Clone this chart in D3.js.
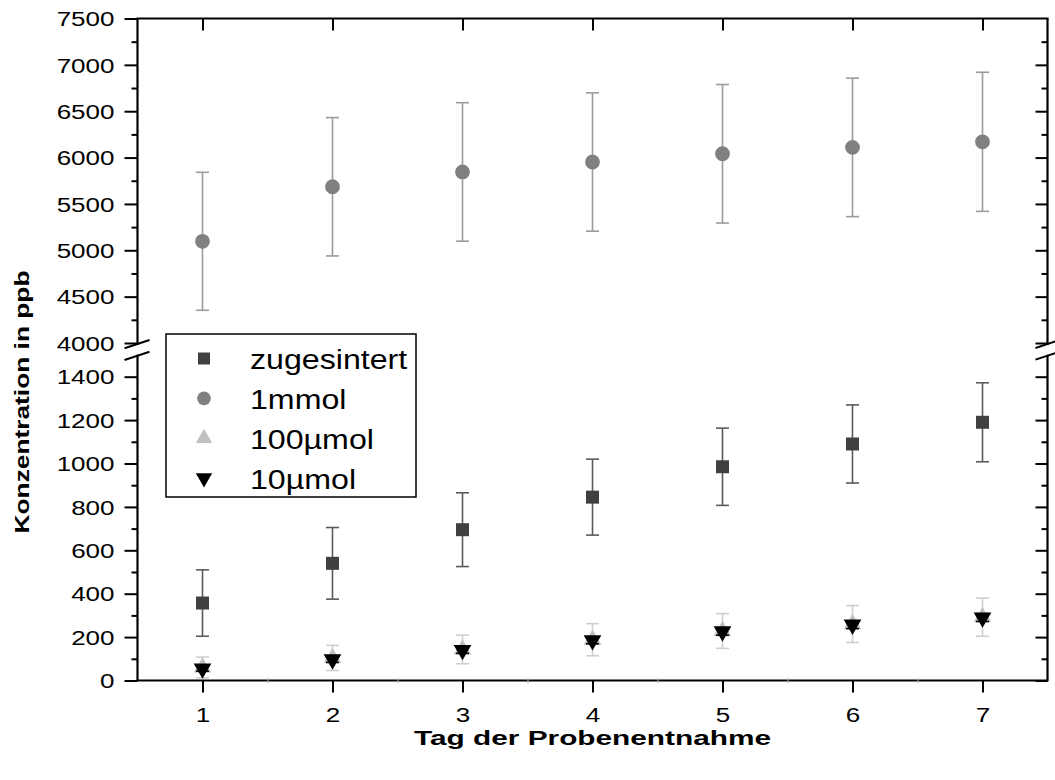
<!DOCTYPE html>
<html>
<head>
<meta charset="utf-8">
<script src="https://cdn.jsdelivr.net/npm/d3@7"></script>
<style>
  html, body { margin: 0; padding: 0; background: #fff; }
  svg { display: block; font-family: "Liberation Sans", Arial, sans-serif; }
</style>
</head>
<body>
<script>
// Sampling days and tick values
const days = [1, 2, 3, 4, 5, 6, 7];
const upperTicks = [4000, 4500, 5000, 5500, 6000, 6500, 7000, 7500];
const upperMinor = [4250, 4750, 5250, 5750, 6250, 6750, 7250];
const lowerTicks = [0, 200, 400, 600, 800, 1000, 1200, 1400];
const lowerMinor = [100, 300, 500, 700, 900, 1100, 1300];

// Series: mean concentration (ppb) and error half-width per day
const zugesintert    = [357, 540, 695, 845, 985, 1090, 1190];
const zugesintertErr = [153, 165, 170, 175, 178, 180, 182];
const mmol1          = [5097, 5685, 5845, 5952, 6041, 6110, 6170];
const mmol1Err       = [744, 746, 747, 746, 747, 747, 750];
const umol100        = [60, 104, 143, 188, 228, 260, 292];
const umol100Err     = [48, 58, 66, 74, 80, 85, 88];
const umol10         = [55, 97, 140, 185, 226, 257, 290];
const umol10Err      = [12, 14, 15, 16, 17, 18, 18];

const legendLabels = ["zugesintert", "1mmol", "100µmol", "10µmol"];

(function () {
const W = 1055, H = 780;
const svg = d3.select("body").append("svg").attr("width", W).attr("height", H);

const x   = d3.scaleLinear().domain([0.5, 7.5]).range([137.5, 1047.5]);
const yUp = d3.scaleLinear().domain([4000, 7500]).range([343, 18.5]);
const yLo = d3.scaleLinear().domain([0, 1400]).range([680.5, 376.7]);

const xL = x.range()[0], xR = x.range()[1];
const yT = yUp.range()[1], yB = yLo.range()[0];
const upperEnd = yUp(4000) + 2;    // where the upper axis segment stops
const lowerStart = yLo(1400) - 22; // where the lower axis segment starts

// horizontally widen text to the given factor
function stretch(sel, k) {
  sel.each(function () {
    const w = this.getComputedTextLength();
    this.setAttribute("textLength", w * k);
    this.setAttribute("lengthAdjust", "spacingAndGlyphs");
  });
}

// ---------- series ----------
const series = [
  { name: legendLabels[0], vals: zugesintert, err: zugesintertErr, y: yLo, sym: "square",  fill: "#404040", bar: "#5a5a5a" },
  { name: legendLabels[1], vals: mmol1,       err: mmol1Err,       y: yUp, sym: "circle",  fill: "#808080", bar: "#9c9c9c" },
  { name: legendLabels[2], vals: umol100,     err: umol100Err,     y: yLo, sym: "triUp",   fill: "#c0c0c0", bar: "#cfcfcf" },
  { name: legendLabels[3], vals: umol10,      err: umol10Err,      y: yLo, sym: "triDown", fill: "#000000", bar: "#000000" }
];

function symbolPath(kind, scale) {
  if (kind === "square") return d3.symbol(d3.symbolSquare, 169 * scale)();
  if (kind === "circle") return d3.symbol(d3.symbolCircle, Math.PI * 7.4 * 7.4 * scale)();
  return d3.symbol(d3.symbolTriangle, 136 * scale)();
}

const plot = svg.append("g");
series.forEach(s => {
  const g = plot.append("g");
  const pts = days.map((d, i) => ({ d, v: s.vals[i], e: s.err[i] }));
  // error bars
  const eb = g.selectAll(".eb").data(pts).join("g").attr("stroke", s.bar).attr("stroke-width", 1.6);
  eb.append("line")
    .attr("x1", p => x(p.d)).attr("x2", p => x(p.d))
    .attr("y1", p => s.y(p.v - p.e)).attr("y2", p => s.y(p.v + p.e));
  eb.append("line")
    .attr("x1", p => x(p.d) - 6.5).attr("x2", p => x(p.d) + 6.5)
    .attr("y1", p => s.y(p.v + p.e)).attr("y2", p => s.y(p.v + p.e));
  eb.append("line")
    .attr("x1", p => x(p.d) - 6.5).attr("x2", p => x(p.d) + 6.5)
    .attr("y1", p => s.y(p.v - p.e)).attr("y2", p => s.y(p.v - p.e));
  // markers
  g.selectAll(".m").data(pts).join("path")
    .attr("d", symbolPath(s.sym, 1))
    .attr("fill", s.fill)
    .attr("transform", p => `translate(${x(p.d)},${s.y(p.v)})` + (s.sym === "triDown" ? " rotate(180)" : ""));
});

// ---------- frame ----------
const frame = svg.append("g").attr("stroke", "#000").attr("stroke-width", 2.2).attr("fill", "none");
frame.append("line").attr("x1", xL - 1).attr("x2", xR + 1).attr("y1", yT).attr("y2", yT);
frame.append("line").attr("x1", xL - 1).attr("x2", xR + 1).attr("y1", yB).attr("y2", yB);
[xL, xR].forEach(xx => {
  frame.append("line").attr("x1", xx).attr("x2", xx).attr("y1", yT).attr("y2", upperEnd);
  frame.append("line").attr("x1", xx).attr("x2", xx).attr("y1", lowerStart).attr("y2", yB);
});

// axis break marks
const brk = svg.append("g").attr("stroke", "#000").attr("stroke-width", 2);
[[xL, -13, 12], [xR, -12, 8]].forEach(([xx, a, b]) => {
  [yUp(4000) + 1, lowerStart + 1].forEach(yc => {
    brk.append("line")
      .attr("x1", xx + a).attr("y1", yc - a * 0.33)
      .attr("x2", xx + b).attr("y2", yc - b * 0.33);
  });
});

// ---------- axes ----------
function styleAxis(g) {
  g.select(".domain").remove();
  g.selectAll("line").attr("stroke", "#000").attr("stroke-width", 2);
  g.selectAll("text").attr("fill", "#000").attr("font-size", 20);
}

// left: outward ticks with labels
const lUp = svg.append("g").attr("transform", `translate(${xL},0)`)
  .call(d3.axisLeft(yUp).tickValues(upperTicks).tickSize(13).tickPadding(10).tickFormat(d3.format("d")));
const lUpMinor = svg.append("g").attr("transform", `translate(${xL},0)`)
  .call(d3.axisLeft(yUp).tickValues(upperMinor).tickSize(6).tickFormat(""));
const lLo = svg.append("g").attr("transform", `translate(${xL},0)`)
  .call(d3.axisLeft(yLo).tickValues(lowerTicks).tickSize(13).tickPadding(10).tickFormat(d3.format("d")));
const lLoMinor = svg.append("g").attr("transform", `translate(${xL},0)`)
  .call(d3.axisLeft(yLo).tickValues(lowerMinor).tickSize(6).tickFormat(""));

// right: inward ticks, no labels
const rUp = svg.append("g").attr("transform", `translate(${xR},0)`)
  .call(d3.axisLeft(yUp).tickValues(upperTicks.slice(0, -1)).tickSize(12).tickFormat(""));
const rUpMinor = svg.append("g").attr("transform", `translate(${xR},0)`)
  .call(d3.axisLeft(yUp).tickValues(upperMinor).tickSize(6).tickFormat(""));
const rLo = svg.append("g").attr("transform", `translate(${xR},0)`)
  .call(d3.axisLeft(yLo).tickValues(lowerTicks).tickSize(12).tickFormat(""));
const rLoMinor = svg.append("g").attr("transform", `translate(${xR},0)`)
  .call(d3.axisLeft(yLo).tickValues(lowerMinor).tickSize(6).tickFormat(""));

// bottom: outward ticks with labels; top: inward ticks
const bAx = svg.append("g").attr("transform", `translate(0,${yB})`)
  .call(d3.axisBottom(x).tickValues(days).tickSize(12).tickFormat(d3.format("d")));
const tAx = svg.append("g").attr("transform", `translate(0,${yT})`)
  .call(d3.axisBottom(x).tickValues(days).tickSize(12).tickFormat(""));

[lUp, lUpMinor, lLo, lLoMinor, rUp, rUpMinor, rLo, rLoMinor, bAx, tAx].forEach(styleAxis);

// faint minor marks at half days on the bottom axis
svg.append("g").attr("transform", `translate(0,${yB})`)
  .call(d3.axisBottom(x).tickValues([1.5, 2.5, 3.5, 4.5, 5.5, 6.5]).tickSize(3).tickFormat(""))
  .call(g => { g.select(".domain").remove(); g.selectAll("line").attr("stroke", "#bbb").attr("stroke-width", 1).attr("y1", -3); });

bAx.selectAll("text").attr("y", 41).attr("dy", 0);
lUp.selectAll("text").attr("dy", "0.36em");
lLo.selectAll("text").attr("dy", "0.36em");
stretch(bAx.selectAll("text"), 1.3);
stretch(lUp.selectAll("text"), 1.3);
stretch(lLo.selectAll("text"), 1.3);

// ---------- titles ----------
svg.append("text")
  .attr("x", (xL + xR) / 2).attr("y", 745)
  .attr("text-anchor", "middle").attr("font-size", 21).attr("font-weight", "bold")
  .attr("textLength", 357).attr("lengthAdjust", "spacingAndGlyphs")
  .text("Tag der Probenentnahme");

svg.append("text")
  .attr("transform", `translate(29,402) rotate(-90)`)
  .attr("text-anchor", "middle").attr("font-size", 21).attr("font-weight", "bold")
  .attr("textLength", 263).attr("lengthAdjust", "spacingAndGlyphs")
  .text("Konzentration in ppb");

// ---------- legend ----------
const lg = svg.append("g");
lg.append("rect").attr("x", 166).attr("y", 334).attr("width", 250).attr("height", 163)
  .attr("fill", "#fff").attr("stroke", "#000").attr("stroke-width", 1.5);
const rowY = d3.scaleLinear().domain([0, 3]).range([358.5, 478]);
series.forEach((s, i) => {
  lg.append("path")
    .attr("d", symbolPath(s.sym, 0.85))
    .attr("fill", s.fill)
    .attr("transform", `translate(204,${rowY(i)})` + (s.sym === "triDown" ? " rotate(180)" : ""));
  const t = lg.append("text")
    .attr("x", 250).attr("y", rowY(i) + 10.5)
    .attr("font-size", 27).attr("fill", "#000")
    .text(s.name);
  stretch(t, 1.19);
});
})();
</script>
</body>
</html>
